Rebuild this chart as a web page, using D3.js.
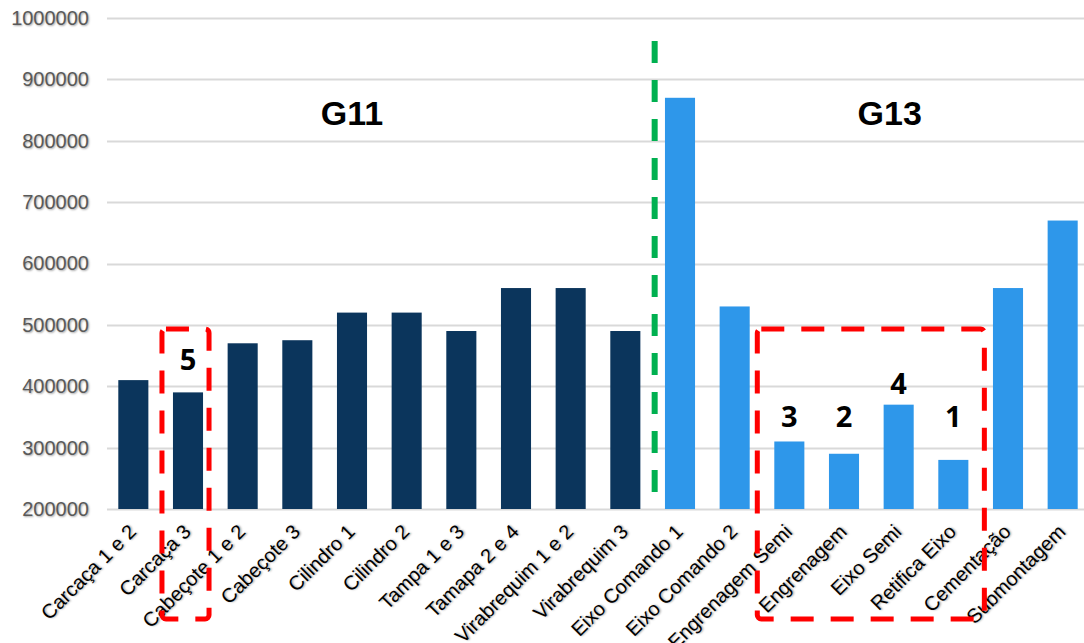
<!DOCTYPE html>
<html>
<head>
<meta charset="utf-8">
<script src="https://cdn.jsdelivr.net/npm/d3@7"></script>
<style>
  body { margin: 0; background: #fff; }
  .tick text { font-family: "Liberation Sans", Arial, sans-serif; }
  .ylab { text-shadow: 1px 1px 2px rgba(0,0,0,0.35); }
  .xlab { text-shadow: 1px 1px 2px rgba(0,0,0,0.35); }
</style>
</head>
<body>
<script>
// Categories and values
var categories = ["Carcaça 1 e 2", "Carcaça 3", "Cabeçote 1 e 2", "Cabeçote 3", "Cilindro 1",
  "Cilindro 2", "Tampa 1 e 3", "Tamapa 2 e 4", "Virabrequim 1 e 2", "Virabrequim 3",
  "Eixo Comando 1", "Eixo Comando 2", "Engrenagem Semi", "Engrenagem", "Eixo Semi",
  "Retifica Eixo", "Cementação", "Submontagem"];
var values = [410000, 390000, 470000, 475000, 520000, 520000, 490000, 560000, 560000, 490000,
  870000, 530000, 310000, 290000, 370000, 280000, 560000, 670000];
var groups = ["G11", "G11", "G11", "G11", "G11", "G11", "G11", "G11", "G11", "G11",
  "G13", "G13", "G13", "G13", "G13", "G13", "G13", "G13"];
var yTicks = [200000, 300000, 400000, 500000, 600000, 700000, 800000, 900000, 1000000];

// Group titles sit over these categories
var titleNames = ["G11", "G13"];
var titleCats = ["Cilindro 1", "Eixo Semi"];

// Rank labels (category, y value where the number sits)
var rankCats = ["Carcaça 3", "Engrenagem Semi", "Engrenagem", "Eixo Semi", "Retifica Eixo"];
var rankLabels = ["5", "3", "2", "4", "1"];
var rankY = [443000, 350000, 350000, 405000, 350000];

// Highlight boxes (first and last category of each)
var boxes = [["Carcaça 3", "Carcaça 3"], ["Engrenagem Semi", "Retifica Eixo"]];

var colors = {G11: "#0b355c", G13: "#2e97ea"};

var width = 1084, height = 643;
var margin = {top: 18, right: 0, bottom: 134, left: 106};

var svg = d3.select("body").append("svg")
    .attr("width", width)
    .attr("height", height);

var x = d3.scaleBand()
    .domain(categories)
    .range([106, 1090])
    .paddingInner(0.45)
    .paddingOuter(0.225);

var y = d3.scaleLinear()
    .domain([200000, 1000000])
    .range([height - margin.bottom, margin.top]);

// Grid lines
svg.append("g")
  .selectAll("line")
  .data(yTicks)
  .enter().append("line")
    .attr("x1", 107)
    .attr("x2", width)
    .attr("y1", function(d) { return Math.round(y(d)) + 0.5; })
    .attr("y2", function(d) { return Math.round(y(d)) + 0.5; })
    .attr("stroke", "#d9d9d9")
    .attr("stroke-width", 2);

// Y axis labels
var yAxis = svg.append("g")
    .attr("transform", "translate(107,0)")
    .call(d3.axisLeft(y).tickValues(yTicks).tickSize(0).tickPadding(18).tickFormat(d3.format("d")));
yAxis.select(".domain").remove();
yAxis.selectAll("text")
    .attr("class", "ylab")
    .attr("fill", "#595959")
    .style("font-size", "20px");

// Bars
svg.append("g")
  .selectAll("rect")
  .data(values)
  .enter().append("rect")
    .attr("x", function(d, i) { return x(categories[i]); })
    .attr("y", function(d) { return y(d); })
    .attr("width", x.bandwidth())
    .attr("height", function(d) { return y(200000) - y(d); })
    .attr("fill", function(d, i) { return colors[groups[i]]; });

// X labels rotated
svg.append("g")
  .selectAll("text")
  .data(categories)
  .enter().append("text")
    .attr("class", "xlab")
    .attr("transform", function(d) {
      return "translate(" + (x(d) + x.bandwidth() / 2 + 4) + "," + (y(200000) + 24) + ") rotate(-45)";
    })
    .attr("text-anchor", "end")
    .style("font-family", "'Liberation Sans', Arial, sans-serif")
    .style("font-size", "20px")
    .attr("fill", "#000")
    .text(function(d) { return d; });

// Group separator
var sepX = (x("Virabrequim 3") + x.bandwidth() + x("Eixo Comando 1")) / 2 + 2;
svg.append("line")
    .attr("x1", sepX).attr("x2", sepX)
    .attr("y1", 41).attr("y2", 500)
    .attr("stroke", "#00b050")
    .attr("stroke-width", 6)
    .attr("stroke-dasharray", "22,17");

// Group titles
svg.append("g")
  .selectAll("text")
  .data(titleNames)
  .enter().append("text")
    .attr("x", function(d, i) { return x(titleCats[i]) + x.bandwidth() / 2 - (i ? 9 : 0); })
    .attr("y", 125)
    .attr("text-anchor", "middle")
    .style("font-family", "'Liberation Sans', Arial, sans-serif")
    .style("font-weight", "bold")
    .style("font-size", "34px")
    .text(function(d) { return d; });

// Red dashed boxes
var padL = [11, 17], padR = [6, 16];
svg.append("g")
  .selectAll("rect")
  .data(boxes)
  .enter().append("rect")
    .attr("x", function(d, i) { return x(d[0]) - padL[i]; })
    .attr("y", y(490000) - 2)
    .attr("width", function(d, i) { return x(d[1]) + x.bandwidth() + padR[i] - (x(d[0]) - padL[i]); })
    .attr("height", function() { return 619 - (y(490000) - 2); })
    .attr("rx", 4)
    .attr("fill", "none")
    .attr("stroke", "#ff0000")
    .attr("stroke-width", 5)
    .attr("stroke-dasharray", "23,17");

// Rank numbers
svg.append("g")
  .selectAll("text")
  .data(rankLabels)
  .enter().append("text")
    .attr("x", function(d, i) { return x(rankCats[i]) + x.bandwidth() / 2; })
    .attr("y", function(d, i) { return y(rankY[i]); })
    .attr("dy", "0.36em")
    .attr("text-anchor", "middle")
    .style("font-family", "'Open Sans', sans-serif")
    .style("font-weight", "bold")
    .style("font-size", "29px")
    .text(function(d) { return d; });
</script>
</body>
</html>
